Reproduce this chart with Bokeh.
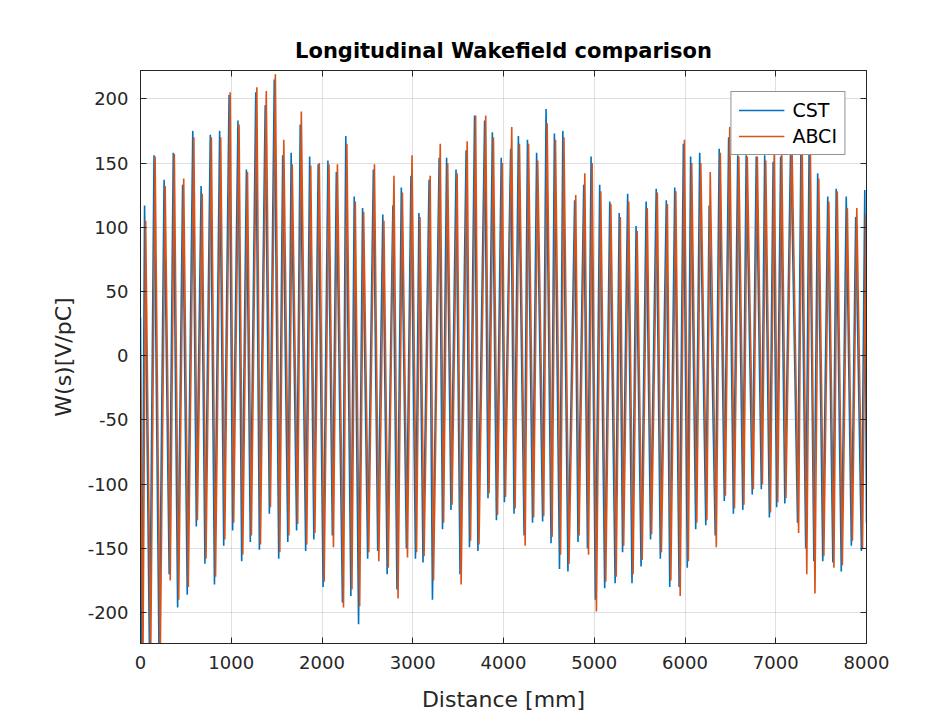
from bokeh.plotting import figure
from bokeh.models import Range1d, LinearAxis, FixedTicker
from bokeh.embed import file_html
from bokeh.resources import INLINE

# ---- data (extrema of each trace) ----
cst_x = [0, 15, 45, 100, 149, 205, 260, 316, 361, 409, 464, 515, 576, 615, 668, 710, 769, 815, 872, 917,
         976, 1015, 1074, 1115, 1167, 1210, 1270, 1310, 1374, 1420, 1474, 1523, 1567, 1623, 1660, 1720, 1760, 1820, 1864, 1910,
         1958, 2012, 2065, 2114, 2158, 2225, 2262, 2318, 2355, 2403, 2447, 2503, 2566, 2614, 2670, 2718, 2781, 2826, 2874, 2930,
         2980, 3030, 3068, 3113, 3180, 3217, 3291, 3328, 3373, 3421, 3477, 3521, 3588, 3625, 3681, 3718, 3792, 3829, 3877, 3922,
         3975, 4010, 4079, 4116, 4164, 4227, 4264, 4320, 4365, 4431, 4469, 4524, 4561, 4617, 4654, 4710, 4784, 4821, 4884, 4925,
         4965, 5012, 5060, 5115, 5171, 5230, 5275, 5312, 5368, 5416, 5461, 5516, 5572, 5620, 5683, 5728, 5794, 5832, 5887, 5935,
         5982, 6025, 6062, 6118, 6162, 6229, 6266, 6333, 6377, 6433, 6481, 6533, 6581, 6637, 6674, 6741, 6785, 6841, 6878, 6930,
         6971, 7010, 7054, 7100, 7165, 7240, 7277, 7330, 7369, 7420, 7462, 7518, 7573, 7629, 7666, 7722, 7777, 7833, 7881, 7944,
         7981, 8000]
cst_w = [30, -240, 117, -240, 156, -240, 137, -170, 158, -196, 133, -186, 175, -133, 132, -162, 172, -178, 175, -148,
         203, -136, 183, -160, 145, -145, 205, -151, 195, -123, 215, -158, 156, -145, 158, -136, 180, -152, 155, -143,
         149, -180, 152, -140, 143, -192, 171, -187, 124, -209, 115, -158, 145, -152, 110, -170, 117, -182, 131, -150,
         140, -158, 111, -161, 137, -190, 154, -135, 154, -120, 145, -170, 160, -149, 187, -152, 183, -111, 174, -128,
         154, -114, 161, -123, 171, -140, 168, -130, 158, -129, 192, -146, 173, -166, 175, -168, 121, -145, 133, -150,
         155, -190, 133, -181, 120, -177, 111, -153, 126, -177, 101, -164, 120, -143, 130, -158, 121, -180, 131, -180,
         165, -165, 155, -135, 158, -132, 117, -140, 161, -113, 170, -123, 156, -120, 156, -108, 155, -104, 156, -126,
         151, -118, 155, -115, 168, -130, 160, -150, 175, -160, 142, -160, 124, -161, 130, -168, 124, -148, 108, -152,
         129, -130]

abci_x = [0, 27, 57, 112, 161, 217, 272, 328, 373, 421, 476, 527, 588, 627, 680, 722, 781, 827, 884, 929,
          988, 1027, 1086, 1127, 1179, 1222, 1282, 1322, 1386, 1432, 1486, 1535, 1579, 1635, 1672, 1732, 1772, 1832, 1876, 1922,
          1970, 2024, 2077, 2126, 2170, 2237, 2274, 2330, 2367, 2415, 2459, 2515, 2578, 2626, 2682, 2730, 2793, 2838, 2886, 2942,
          2992, 3042, 3080, 3125, 3192, 3229, 3303, 3340, 3385, 3433, 3489, 3533, 3600, 3637, 3693, 3730, 3804, 3841, 3889, 3934,
          3987, 4022, 4091, 4128, 4176, 4239, 4276, 4332, 4377, 4443, 4481, 4536, 4573, 4629, 4666, 4722, 4796, 4833, 4896, 4937,
          4977, 5024, 5072, 5127, 5183, 5242, 5287, 5324, 5380, 5428, 5473, 5528, 5584, 5632, 5695, 5740, 5806, 5844, 5899, 5947,
          5994, 6037, 6074, 6130, 6174, 6241, 6278, 6345, 6389, 6445, 6493, 6545, 6593, 6649, 6686, 6753, 6797, 6853, 6890, 6942,
          6983, 7022, 7066, 7112, 7177, 7252, 7289, 7342, 7381, 7432, 7474, 7530, 7585, 7641, 7678, 7734, 7789, 7845, 7893, 7956,
          7993, 8000]
abci_w = [0, -240, 105, -240, 155, -240, 132, -175, 157, -190, 138, -180, 170, -128, 126, -158, 170, -172, 170, -143,
          205, -130, 180, -155, 143, -140, 209, -147, 206, -118, 219, -153, 168, -140, 149, -131, 190, -147, 148, -138,
          150, -176, 149, -149, 149, -196, 165, -182, 120, -195, 112, -153, 149, -160, 105, -165, 140, -189, 127, -157,
          156, -153, 108, -156, 140, -175, 165, -130, 150, -116, 142, -178, 167, -144, 187, -147, 187, -107, 170, -124,
          150, -110, 178, -119, 165, -148, 165, -126, 152, -125, 181, -141, 168, -155, 170, -162, 125, -140, 142, -155,
          150, -199, 128, -176, 118, -172, 108, -148, 120, -170, 97, -159, 115, -139, 127, -153, 118, -175, 128, -187,
          168, -160, 150, -130, 150, -128, 143, -149, 158, -109, 178, -119, 155, -116, 155, -104, 155, -100, 152, -122,
          160, -114, 160, -111, 172, -138, 178, -170, 165, -185, 138, -156, 120, -165, 128, -163, 115, -144, 115, -150,
          110, -60]

x_ticks = [0, 1000, 2000, 3000, 4000, 5000, 6000, 7000, 8000]
x_tick_labels = ["0", "1000", "2000", "3000", "4000", "5000", "6000", "7000", "8000"]
y_ticks = [-200, -150, -100, -50, 0, 50, 100, 150, 200]
y_tick_labels = ["-200", "-150", "-100", "-50", "0", "50", "100", "150", "200"]
title_text = "Longitudinal Wakefield comparison"
x_label = "Distance [mm]"
y_label = "W(s)[V/pC]"
series_names = ["CST", "ABCI"]

FONT = "DejaVu Sans"
TXT = "#262626"

p = figure(width=943, height=719, frame_width=726, frame_height=573,
           x_range=Range1d(0, 8000), y_range=Range1d(-224, 222),
           output_backend="svg", toolbar_location=None,
           min_border_left=140, min_border_right=77, min_border_top=70, min_border_bottom=76)

p.title.text = title_text
p.title.align = "center"
p.title.text_font = FONT
p.title.text_font_size = "21px"
p.title.text_font_style = "bold"
p.title.text_color = "#000000"
p.title.standoff = 16

p.line(cst_x, cst_w, line_color="#0072BD", line_width=1.6, legend_label=series_names[0])
p.line(abci_x, abci_w, line_color="#D95319", line_width=1.6, legend_label=series_names[1])

p.xaxis.ticker = FixedTicker(ticks=x_ticks)
p.yaxis.ticker = FixedTicker(ticks=y_ticks)
p.xaxis.major_label_overrides = dict(zip(x_ticks, x_tick_labels))
p.yaxis.major_label_overrides = dict(zip(y_ticks, y_tick_labels))

for ax in (p.xaxis[0], p.yaxis[0]):
    ax.major_tick_in = 6
    ax.major_tick_out = 0
    ax.minor_tick_in = 0
    ax.minor_tick_out = 0
    ax.axis_line_color = TXT
    ax.major_tick_line_color = TXT
    ax.major_label_text_color = TXT
    ax.major_label_text_font = FONT
    ax.major_label_text_font_size = "18px"
    ax.axis_label_text_color = TXT
    ax.axis_label_text_font = FONT
    ax.axis_label_text_font_size = "22px"
    ax.axis_label_text_font_style = "normal"

p.xaxis.axis_label = x_label
p.yaxis.axis_label = y_label
p.xaxis.major_label_standoff = 12
p.xaxis.axis_label_standoff = 15
p.yaxis.major_label_standoff = 12
p.yaxis.axis_label_standoff = 9

# box axes (top / right) carrying only tick marks, drawn as minor ticks so no labels appear
top = LinearAxis(ticker=FixedTicker(ticks=[], minor_ticks=x_ticks),
                 minor_tick_in=6, minor_tick_out=0, major_tick_in=0, major_tick_out=0,
                 axis_line_color=TXT, minor_tick_line_color=TXT, major_label_standoff=0)
right = LinearAxis(ticker=FixedTicker(ticks=[], minor_ticks=y_ticks),
                   minor_tick_in=6, minor_tick_out=0, major_tick_in=0, major_tick_out=0,
                   axis_line_color=TXT, minor_tick_line_color=TXT, major_label_standoff=0)
p.add_layout(top, "above")
p.add_layout(right, "right")

p.xgrid.ticker = FixedTicker(ticks=x_ticks)
p.ygrid.ticker = FixedTicker(ticks=y_ticks)
p.xgrid.grid_line_color = "#262626"
p.xgrid.grid_line_alpha = 0.15
p.ygrid.grid_line_color = "#262626"
p.ygrid.grid_line_alpha = 0.15
p.outline_line_color = TXT

leg = p.legend[0]
leg.location = "top_right"
leg.margin = 21
leg.border_line_color = TXT
leg.border_line_width = 1
leg.background_fill_color = "white"
leg.background_fill_alpha = 1
leg.label_text_font = FONT
leg.label_text_font_size = "19px"
leg.label_text_color = "#000000"
leg.glyph_width = 46
leg.glyph_height = 22
leg.label_height = 22
leg.spacing = 4
leg.padding = 7
leg.label_standoff = 8

open("out.html", "w").write(file_html(p, INLINE))
